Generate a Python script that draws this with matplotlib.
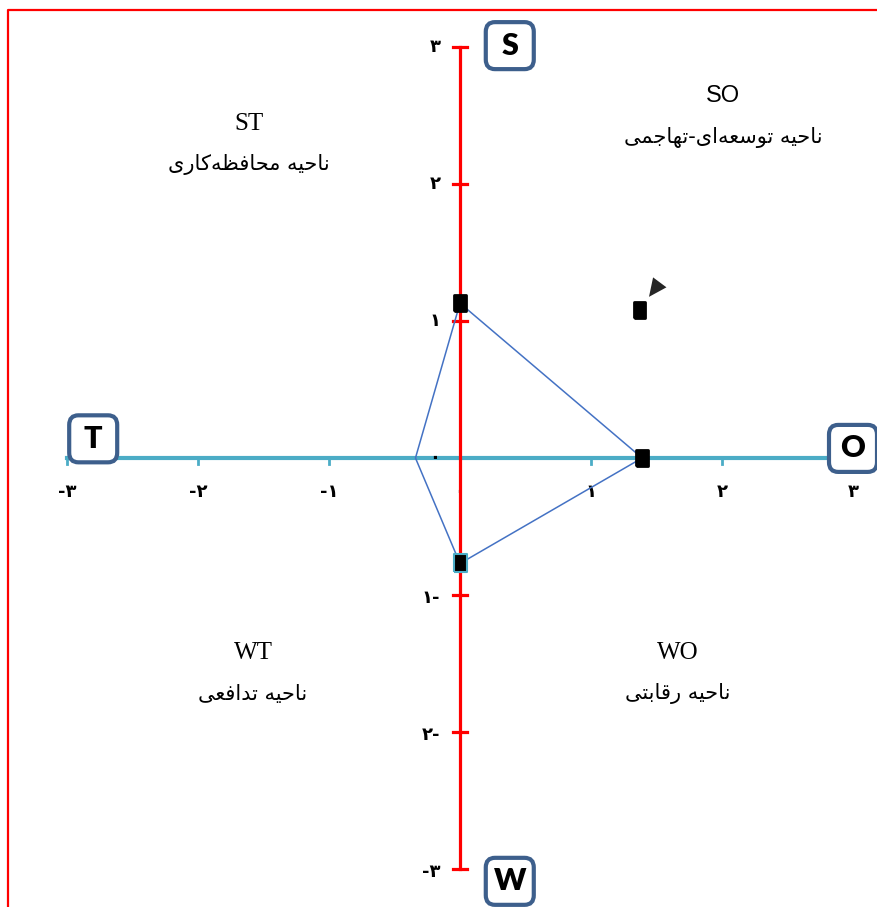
import matplotlib
matplotlib.use('Agg')
import matplotlib.pyplot as plt
from matplotlib.patches import FancyBboxPatch
from matplotlib.markers import MarkerStyle

# ---- data ----
ticks = [-3, -2, -1, 0, 1, 2, 3]
x_tick_labels = ['-۳', '-۲', '-۱', '۰', '۱', '۲', '۳']
y_tick_labels = ['-۳', '۲-', '۱-', '۰', '۱', '۲', '۳']

# strategy polygon  (S -> O -> W -> T -> S)
poly_x = [0, 1.39, 0, -0.34, 0]
poly_y = [1.13, 0, -0.77, 0, 1.13]
# final position of the organisation
pos_x = 1.37
pos_y = 1.08

quad_codes = ['SO', 'ST', 'WT', 'WO']
quad_names = ['ناحیه توسعه‌ای-تهاجمی', 'ناحیه محافظه‌کاری', 'ناحیه تدافعی', 'ناحیه رقابتی']
axis_letters = ['S', 'T', 'O', 'W']

# ---- layout ----
quad_xy = [(2.01, 2.64), (-1.61, 2.44), (-1.58, -1.42), (1.66, -1.42)]
letter_xy = [(0.38, 3.01), (-2.80, 0.14), (3.00, 0.07), (0.38, -3.09)]

# minimal arabic shaping (matplotlib has no RTL / joining support)
FORMS = {
    'ا': ('\uFE8D', '\uFE8E', None, None),
    'ب': ('\uFE8F', '\uFE90', '\uFE91', '\uFE92'),
    'ت': ('\uFE95', '\uFE96', '\uFE97', '\uFE98'),
    'ج': ('\uFE9D', '\uFE9E', '\uFE9F', '\uFEA0'),
    'ح': ('\uFEA1', '\uFEA2', '\uFEA3', '\uFEA4'),
    'د': ('\uFEA9', '\uFEAA', None, None),
    'ر': ('\uFEAD', '\uFEAE', None, None),
    'س': ('\uFEB1', '\uFEB2', '\uFEB3', '\uFEB4'),
    'ظ': ('\uFEC5', '\uFEC6', '\uFEC7', '\uFEC8'),
    'ع': ('\uFEC9', '\uFECA', '\uFECB', '\uFECC'),
    'ف': ('\uFED1', '\uFED2', '\uFED3', '\uFED4'),
    'ق': ('\uFED5', '\uFED6', '\uFED7', '\uFED8'),
    'م': ('\uFEE1', '\uFEE2', '\uFEE3', '\uFEE4'),
    'ن': ('\uFEE5', '\uFEE6', '\uFEE7', '\uFEE8'),
    'ه': ('\uFEE9', '\uFEEA', '\uFEEB', '\uFEEC'),
    'و': ('\uFEED', '\uFEEE', None, None),
    'ی': ('\uFBFC', '\uFBFD', '\uFBFE', '\uFBFF'),
    'ک': ('\uFB8E', '\uFB8F', '\uFB90', '\uFB91'),
}


def shape(text):
    out = []
    for i, c in enumerate(text):
        if c not in FORMS:
            out.append(c)
            continue
        prev = text[i - 1] if i > 0 else None
        nxt = text[i + 1] if i + 1 < len(text) else None
        jp = prev in FORMS and FORMS[prev][2] is not None
        jn = nxt in FORMS and FORMS[c][2] is not None
        iso, fin, ini, med = FORMS[c]
        if jp and jn:
            out.append(med)
        elif jp:
            out.append(fin)
        elif jn:
            out.append(ini)
        else:
            out.append(iso)
    return ''.join(o for o in out if o != '\u200c')[::-1]


fig = plt.figure(figsize=(8.78, 9.07), dpi=100)
ax = fig.add_axes([0, 0, 1, 1])
ax.set_xlim(-460 / 131, 418 / 131)
ax.set_ylim(-449 / 137, 458 / 137)
ax.axis('off')

red = '#ff0000'
cyan = '#4bacc6'

# frame (red)
ax.plot([0.009, 0.009, 1.0], [0.0, 0.989, 0.989], color=red, lw=1.6,
        transform=ax.transAxes, clip_on=False)

# horizontal axis
ax.plot([ticks[0], ticks[-1]], [0, 0], color=cyan, lw=3, zorder=2)
for t in ticks:
    ax.plot([t, t], [0, -0.045], color=cyan, lw=2, zorder=2)
for t, lab in zip(ticks, x_tick_labels):
    ax.text(t, -0.25, lab, ha='center', va='center', fontsize=13,
            fontweight='bold', family='DejaVu Sans')

# vertical axis
ax.plot([0, 0], [ticks[0], ticks[-1]], color=red, lw=2.3, zorder=3)
for t in ticks:
    if t != 0:
        ax.plot([-0.05, 0.05], [t, t], color=red, lw=2.3, zorder=3)
for t, lab in zip(ticks, y_tick_labels):
    ax.text(-0.15, t - (0.02 if t < 0 else 0), lab, ha='right', va='center',
            fontsize=13, fontweight='bold', family='DejaVu Sans')

# strategy polygon
ax.plot(poly_x, poly_y, color='#4472c4', lw=1.1, zorder=4)
mk = MarkerStyle([(-0.72, -1), (0.72, -1), (0.72, 1), (-0.72, 1), (-0.72, -1)],
                 joinstyle='round')
ax.plot(poly_x[:2], poly_y[:2], ls='none', marker=mk, ms=11.5, mfc='black',
        mec='black', mew=2, zorder=5)
ax.plot(poly_x[2], poly_y[2], ls='none', marker=mk, ms=13, mfc='black',
        mec=cyan, mew=1.5, zorder=5)
ax.plot(pos_x, pos_y, ls='none', marker=mk, ms=11, mfc='black',
        mec='black', mew=2, zorder=5)
ax.annotate('', xy=(pos_x + 0.06, pos_y + 0.08), xytext=(pos_x + 0.2, pos_y + 0.26),
            arrowprops=dict(arrowstyle='-|>,head_length=1.3,head_width=0.6',
                            color='black', lw=0, alpha=0.85), zorder=5)

# quadrant labels
for (qx, qy), code, name in zip(quad_xy, quad_codes, quad_names):
    if code == 'SO':
        ax.text(qx, qy, code, ha='center', va='center', fontsize=17,
                family='Liberation Sans')
    else:
        ax.text(qx, qy, code, ha='center', va='center', fontsize=18,
                family='Liberation Serif')
    ax.text(qx, qy - 0.30, shape(name), ha='center', va='center', fontsize=15,
            family='DejaVu Sans')

# axis letter boxes
bw, bh = 48 / 131, 47 / 137
for (lx, ly), let in zip(letter_xy, axis_letters):
    box = FancyBboxPatch((lx - bw / 2, ly - bh / 2), bw, bh,
                         boxstyle='round,pad=0,rounding_size=0.07',
                         fc='white', ec='#3d5f8c', lw=3, zorder=6)
    ax.add_patch(box)
    ax.text(lx, ly, let, ha='center', va='center', fontsize=22,
            fontweight='heavy', family='Lato', zorder=7)

fig.savefig('out.png', dpi=100)
